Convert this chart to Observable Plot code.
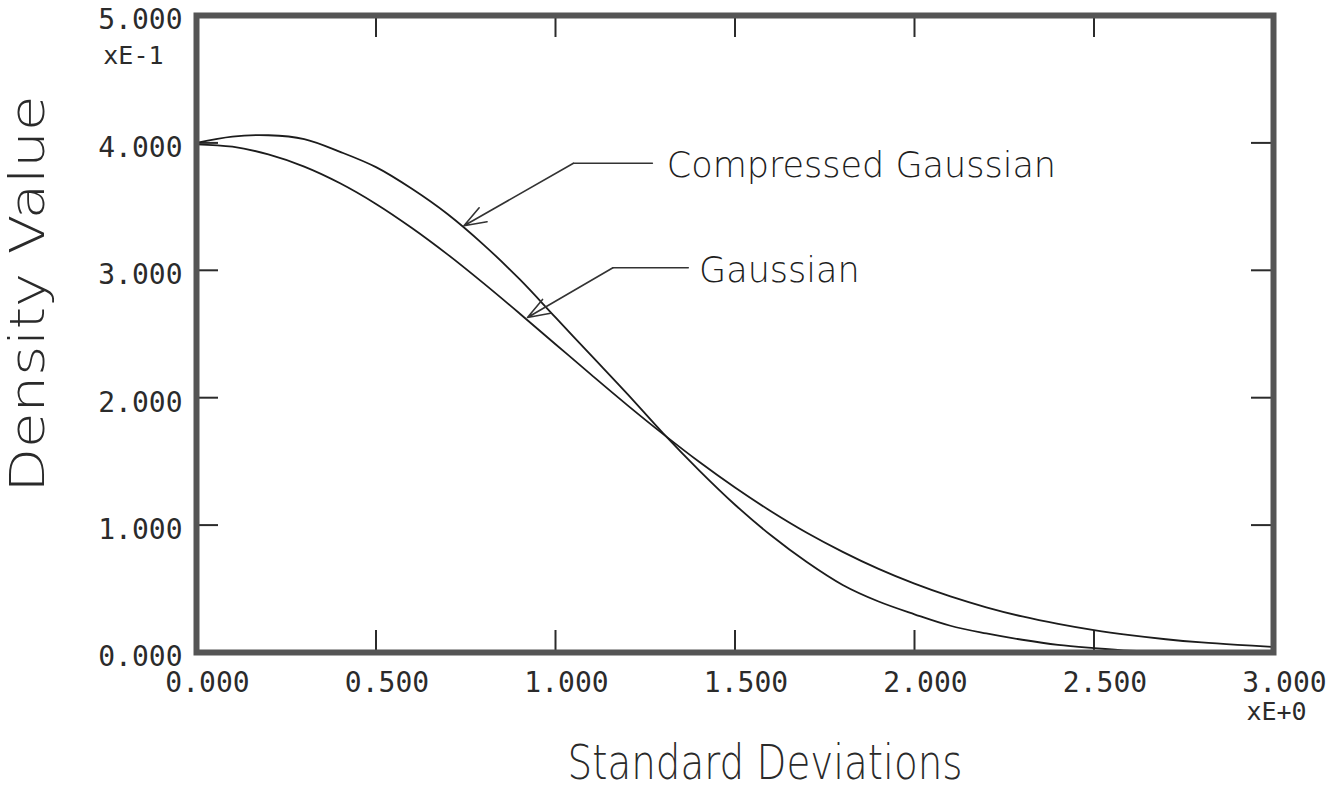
<!DOCTYPE html>
<html>
<head>
<meta charset="utf-8">
<script src="https://cdn.jsdelivr.net/npm/d3@7"></script>
<script src="https://cdn.jsdelivr.net/npm/@observablehq/plot@0.6"></script>
<style>
  html, body { margin: 0; padding: 0; background: #ffffff; }
  svg { display: block; }
</style>
</head>
<body>
<div id="chart"></div>
<script>
// Axis ticks (standard deviations on x, density ×10 on y)
const xTicks = [0, 0.5, 1.0, 1.5, 2.0, 2.5, 3.0];
const yTicks = [0, 1, 2, 3, 4, 5];

// Sample positions shared by both curves
const sd = [0.0, 0.1, 0.2, 0.3, 0.4, 0.5, 0.6, 0.7, 0.8, 0.9, 1.0,
            1.1, 1.2, 1.3, 1.4, 1.5, 1.6, 1.7, 1.8, 1.9, 2.0,
            2.1, 2.2, 2.3, 2.4, 2.5, 2.6, 2.7, 2.8, 2.9, 3.0];

// Gaussian density (×E-1)
const gaussian = [3.989, 3.970, 3.910, 3.814, 3.683, 3.521, 3.332, 3.123, 2.897, 2.661, 2.420,
                  2.179, 1.942, 1.714, 1.497, 1.295, 1.109, 0.940, 0.790, 0.656, 0.540,
                  0.440, 0.355, 0.283, 0.224, 0.175, 0.136, 0.104, 0.079, 0.060, 0.044];

// Compressed Gaussian density (×E-1)
const compressed = [4.00, 4.05, 4.06, 4.03, 3.93, 3.81, 3.64, 3.44, 3.20, 2.93, 2.63,
                    2.33, 2.03, 1.72, 1.43, 1.16, 0.92, 0.71, 0.53, 0.40, 0.30,
                    0.21, 0.15, 0.10, 0.06, 0.035, 0.015, 0.005, 0.0, 0.0, 0.0];

// Callout labels and their leader arrows (data units)
const calloutText   = ["Compressed Gaussian", "Gaussian"];
const calloutX      = [1.31, 1.40];
const calloutY      = [3.82, 3.00];
const leaderStartX  = [1.27, 1.37];
const leaderElbowX  = [1.05, 1.16];
const leaderY       = [3.84, 3.02];
const arrowTipX     = [0.745, 0.922];
const arrowTipY     = [3.35, 2.63];

const xExponent = "xE+0";
const yExponent = "xE-1";
const xTitle = "Standard Deviations";
const yTitle = "Density Value";

const gaussRows = sd.map((x, i) => ({x, y: gaussian[i]}));
const compRows = sd.map((x, i) => ({x, y: compressed[i]}));
const callouts = calloutText.map((t, i) => ({
  text: t, x: calloutX[i], y: calloutY[i],
  sx: leaderStartX[i], ex: leaderElbowX[i], ly: leaderY[i],
  tx: arrowTipX[i], ty: arrowTipY[i]
}));
const leaders = callouts.flatMap((c, i) => [
  {k: i, x: c.sx, y: c.ly}, {k: i, x: c.ex, y: c.ly}
]);

const W = 1341, H = 788;
const mTop = 15, mRight = 68, mBottom = 136, mLeft = 196;
const innerW = W - mLeft - mRight;
const innerH = H - mTop - mBottom;
const tickLen = 22;
const ink = "#2b2b2b";
const frameInk = "#555555";
const fmt = d3.format(".3f");
const innerX = xTicks.slice(1, -1);
const innerY = yTicks.slice(1, -1);

const chart = Plot.plot({
  width: W,
  height: H,
  marginTop: mTop,
  marginRight: mRight,
  marginBottom: mBottom,
  marginLeft: mLeft,
  x: {domain: [xTicks[0], xTicks[xTicks.length - 1]]},
  y: {domain: [yTicks[0], yTicks[yTicks.length - 1]]},
  style: {background: "#ffffff", color: ink},
  marks: [
    // tick labels
    Plot.axisX(xTicks, {anchor: "bottom", tickSize: 0, tickPadding: 20, dx: 11,
      tickFormat: fmt, fontSize: 28, fontFamily: "DejaVu Sans Mono", fill: ink, label: null}),
    Plot.axisY(yTicks, {anchor: "left", tickSize: 0, tickPadding: 14, dy: 5,
      tickFormat: fmt, fontSize: 28, fontFamily: "DejaVu Sans Mono", fill: ink, label: null}),
    // inward ticks on all four sides
    Plot.tickX(innerX, {x: d => d, insetTop: innerH - tickLen, stroke: ink, strokeWidth: 2}),
    Plot.tickX(innerX, {x: d => d, insetBottom: innerH - tickLen, stroke: ink, strokeWidth: 2}),
    Plot.tickY(innerY, {y: d => d, insetRight: innerW - tickLen, stroke: ink, strokeWidth: 2}),
    Plot.tickY(innerY, {y: d => d, insetLeft: innerW - tickLen, stroke: ink, strokeWidth: 2}),
    // density curves
    Plot.line(gaussRows, {x: "x", y: "y", curve: "catmull-rom", stroke: "#1c1c1c", strokeWidth: 1.8}),
    Plot.line(compRows, {x: "x", y: "y", curve: "catmull-rom", stroke: "#1c1c1c", strokeWidth: 1.8}),
    // callouts
    Plot.line(leaders, {x: "x", y: "y", z: "k", stroke: "#333", strokeWidth: 1.4}),
    Plot.arrow(callouts, {x1: "ex", y1: "ly", x2: "tx", y2: "ty", stroke: "#333",
      strokeWidth: 1.6, headLength: 22, headAngle: 40}),
    Plot.text(callouts, {x: "x", y: "y", text: "text", textAnchor: "start",
      fontSize: 35, fontFamily: "DejaVu Sans", fontWeight: 300, fill: "#1e1e1e", className: "callout"}),
    // plot border
    Plot.frame({stroke: frameInk, strokeWidth: 6}),
    // exponent notes
    Plot.text([yExponent], {x: () => xTicks[0], y: () => yTicks[yTicks.length - 1], text: d => d,
      textAnchor: "end", dx: -33, dy: 40, fontSize: 25, fontFamily: "DejaVu Sans Mono", fill: ink}),
    Plot.text([xExponent], {x: () => xTicks[xTicks.length - 1], y: () => yTicks[0], text: d => d,
      textAnchor: "middle", dx: 3, dy: 59, fontSize: 25, fontFamily: "DejaVu Sans Mono", fill: ink}),
    // axis titles
    Plot.text([xTitle], {frameAnchor: "bottom", text: d => d, textAnchor: "middle", dx: 30, dy: 126,
      fontSize: 48, fontFamily: "DejaVu Sans", fontWeight: 300, fill: "#2a2a2a", className: "xtitle"}),
    Plot.text([yTitle], {frameAnchor: "left", text: d => d, textAnchor: "middle", rotate: -90,
      dx: -168, dy: -40, fontSize: 48, fontFamily: "DejaVu Sans", fontWeight: 300, fill: "#2a2a2a", className: "ytitle"})
  ]
});

// Narrow the titles to the plotter lettering widths
d3.select(chart).selectAll(".xtitle text").attr("textLength", 395).attr("lengthAdjust", "spacingAndGlyphs");
d3.select(chart).selectAll(".ytitle text").attr("textLength", 397).attr("lengthAdjust", "spacingAndGlyphs");

document.getElementById("chart").appendChild(chart);
</script>
</body>
</html>
